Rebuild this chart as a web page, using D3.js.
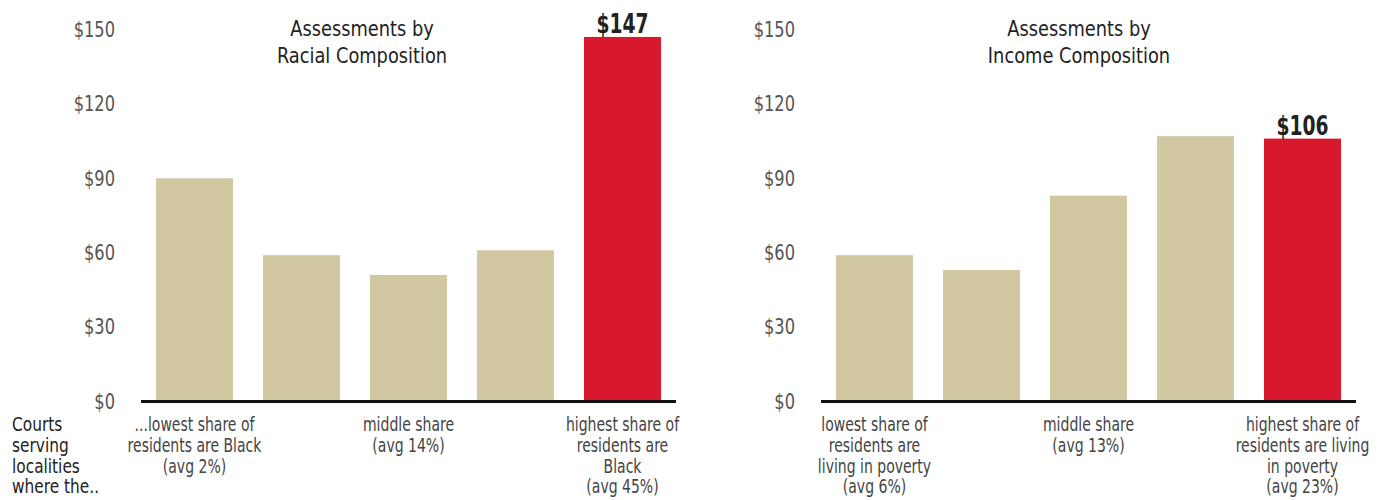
<!DOCTYPE html>
<html>
<head>
<meta charset="utf-8">
<script src="https://cdn.jsdelivr.net/npm/d3@7"></script>
<style>
  body { margin: 0; background: #fff; }
  text { font-family: "Liberation Sans Narrow", "DejaVu Sans Condensed", sans-serif; }
</style>
</head>
<body>
<div id="chart"></div>
<script>
const width = 1379;
const height = 500;

// data
const yTicks = [0, 30, 60, 90, 120, 150];
const raceValues = [90, 59, 51, 61, 147];
const incomeValues = [59, 53, 83, 107, 106];
const raceTitle = ["Assessments by", "Racial Composition"];
const incomeTitle = ["Assessments by", "Income Composition"];
const raceLabels = [
  ["...lowest share of", "residents are Black", "(avg 2%)"],
  [],
  ["middle share", "(avg 14%)"],
  [],
  ["highest share of", "residents are", "Black", "(avg 45%)"]
];
const incomeLabels = [
  ["lowest share of", "residents are", "living in poverty", "(avg 6%)"],
  [],
  ["middle share", "(avg 13%)"],
  [],
  ["highest share of", "residents are living", "in poverty", "(avg 23%)"]
];
const rowLabel = ["Courts", "serving", "localities", "where the.."];

const tan = "#d1c8a1";
const red = "#d8192d";

const svg = d3.select("#chart")
  .append("svg")
  .attr("width", width)
  .attr("height", height);

const y = d3.scaleLinear().domain([0, 150]).range([401.5, 29.5]);

// multi-line text squeezed horizontally (no narrow font installed)
function block(parent, x, yy, lines, k, lh) {
  const t = parent.append("g")
    .attr("transform", `translate(${x},${yy}) scale(${k},1)`)
    .append("text");
  t.selectAll("tspan")
    .data(lines)
    .join("tspan")
    .attr("x", 0)
    .attr("dy", (d, j) => (j === 0 ? 0 : lh))
    .text((d) => d);
  return t;
}

const panels = [
  { values: raceValues, labels: raceLabels, title: raceTitle, x0: 141, x1: 676, titleX: 362 },
  { values: incomeValues, labels: incomeLabels, title: incomeTitle, x0: 821, x1: 1356, titleX: 1079 }
];

panels.forEach((p) => {
  const g = svg.append("g");
  const idx = d3.range(p.values.length);

  const x = d3.scaleBand()
    .domain(idx)
    .range([p.x0, p.x1])
    .paddingInner(0.28)
    .paddingOuter(0.14);

  // y axis, labels only
  const yAxis = d3.axisLeft(y)
    .tickValues(yTicks)
    .tickSize(0)
    .tickPadding(0)
    .tickFormat((d) => "$" + d);

  g.append("g")
    .attr("transform", `translate(${p.x0 - 26},0)`)
    .call(yAxis)
    .call((a) => a.select(".domain").remove())
    .selectAll("text")
    .attr("x", 0)
    .attr("transform", "scale(0.86,1)")
    .attr("font-size", 21)
    .attr("fill", "#555")
    .attr("font-family", null);

  // title
  block(g, p.titleX, 36, p.title, 0.9, 27)
    .attr("text-anchor", "middle")
    .attr("font-size", 22)
    .attr("fill", "#222");

  const last = p.values.length - 1;

  g.selectAll("rect.bar")
    .data(p.values)
    .join("rect")
    .attr("class", "bar")
    .attr("x", (d, i) => x(i))
    .attr("width", x.bandwidth())
    .attr("y", (d) => y(d))
    .attr("height", (d) => y(0) - y(d))
    .attr("fill", (d, i) => (i === last ? red : tan));

  // value label on highlighted bar
  block(g, x(last) + x.bandwidth() / 2, y(p.values[last]) - 4, ["$" + p.values[last]], 0.77, 0)
    .attr("text-anchor", "middle")
    .attr("font-size", 27)
    .attr("font-weight", "bold")
    .attr("fill", "#222");

  // baseline
  g.append("line")
    .attr("x1", p.x0)
    .attr("x2", p.x1)
    .attr("y1", y(0))
    .attr("y2", y(0))
    .attr("stroke", "#111")
    .attr("stroke-width", 3);

  // category labels
  p.labels.forEach((lines, i) => {
    if (!lines.length) return;
    block(g, x(i) + x.bandwidth() / 2, 431, lines, 0.82, 20.8)
      .attr("text-anchor", "middle")
      .attr("font-size", 19)
      .attr("fill", "#444");
  });
});

block(svg, 12, 431, rowLabel, 0.9, 20.8)
  .attr("font-size", 19)
  .attr("fill", "#222");
</script>
</body>
</html>
